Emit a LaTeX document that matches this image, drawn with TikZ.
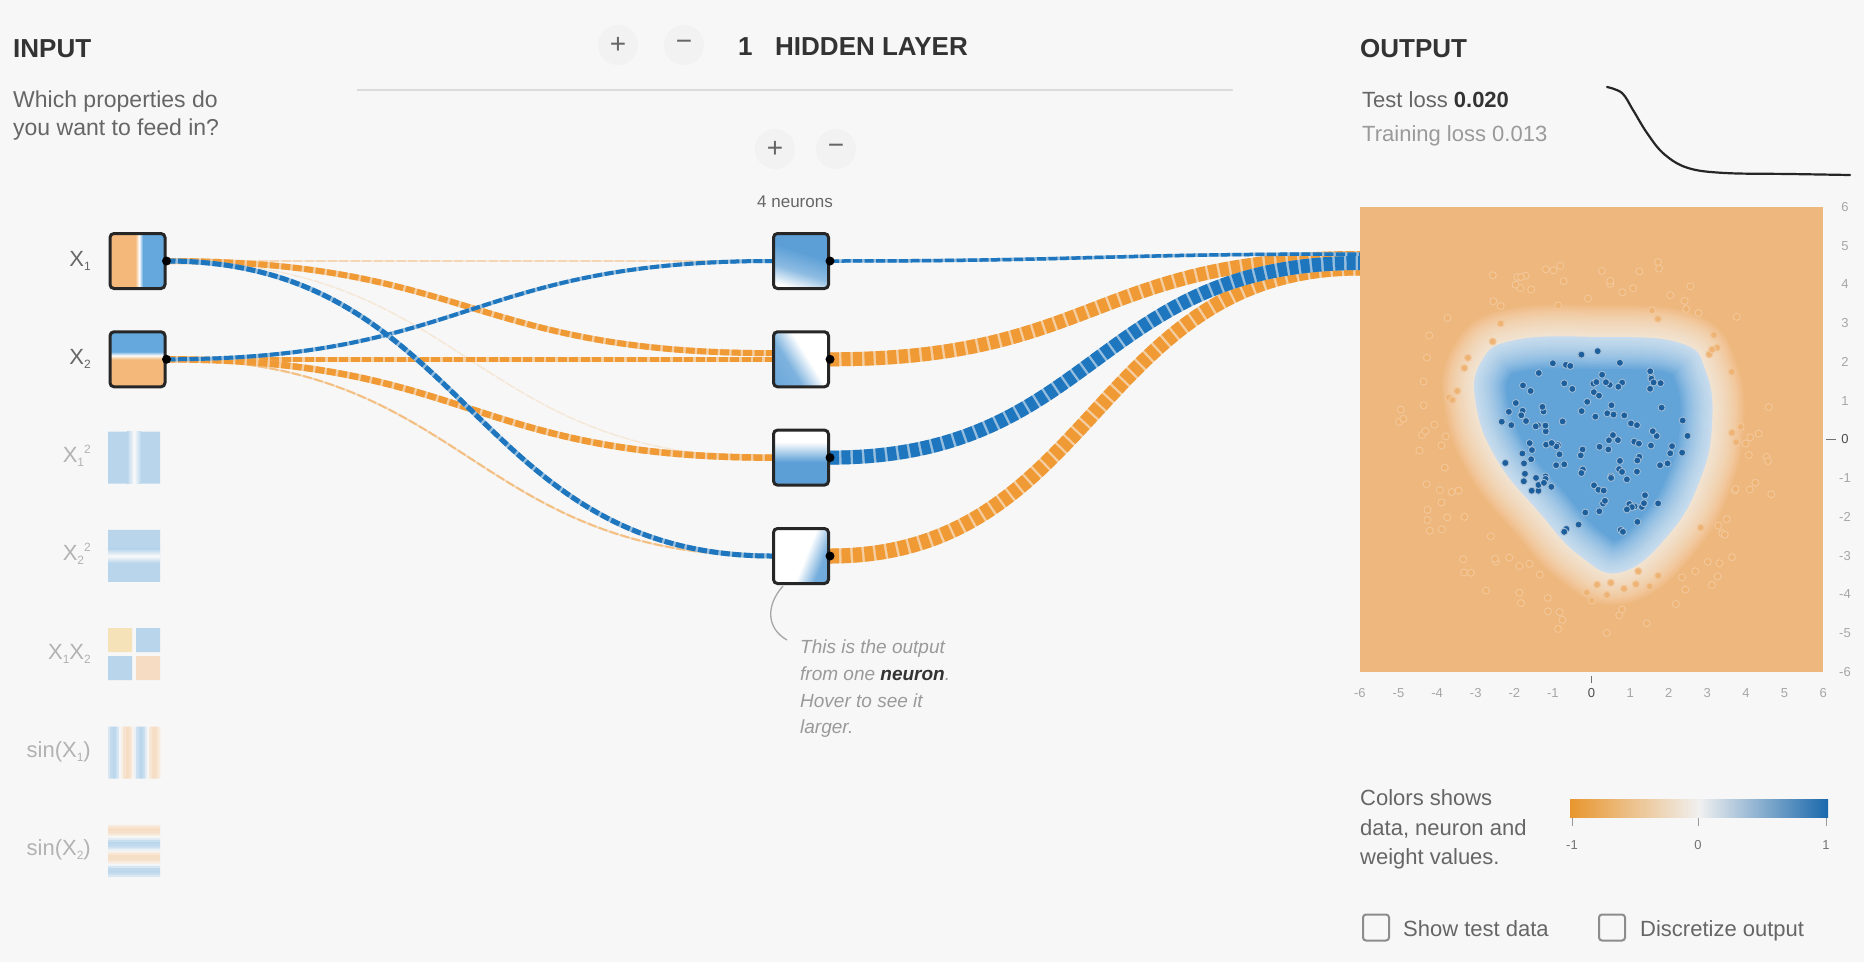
\documentclass[tikz,border=0pt]{standalone}
\usepackage{fontspec}
\setmainfont{Liberation Sans}
\usetikzlibrary{calc}

\definecolor{pagebg}{HTML}{F7F7F7}
\definecolor{inor}{HTML}{F3B87A}
\definecolor{inbl}{HTML}{65A8DD}
\definecolor{nodebl}{HTML}{5C9FD6}
\definecolor{hmor}{HTML}{EEB77D}
\definecolor{hmbl}{HTML}{62A3D8}
\definecolor{linkor}{HTML}{F09A36}
\definecolor{linkbl}{HTML}{1E76BE}
\definecolor{dotbl}{HTML}{1D5F9C}
\definecolor{ink}{HTML}{333333}
\definecolor{mid}{HTML}{666666}
\definecolor{pale}{HTML}{9A9A9A}
\definecolor{barOr}{HTML}{E8962E}
\definecolor{barBl}{HTML}{1A68AC}

\pgfdeclarelayer{ground}
\pgfdeclarelayer{wires}
\pgfsetlayers{ground,wires,main}

% heat-map shadings of the neuron outputs (25bp..75bp span the box)
\pgfdeclareverticalshading{hOne}{100bp}{color(0bp)=(white); color(24bp)=(white); color(40bp)=(nodebl!70); color(58bp)=(nodebl); color(100bp)=(nodebl)}
\pgfdeclareverticalshading{hTwo}{100bp}{color(0bp)=(white); color(44bp)=(white); color(62bp)=(nodebl!80); color(100bp)=(nodebl)}
\pgfdeclareverticalshading{hThree}{100bp}{color(0bp)=(nodebl); color(46bp)=(nodebl); color(64bp)=(white); color(100bp)=(white)}
\pgfdeclareverticalshading{hFour}{100bp}{color(0bp)=(white); color(54bp)=(white); color(70bp)=(nodebl!85); color(100bp)=(nodebl)}
% input features x1 and x2
\pgfdeclarehorizontalshading{inOne}{100bp}{color(0bp)=(inor); color(48bp)=(inor); color(51.5bp)=(white); color(55bp)=(inbl); color(100bp)=(inbl)}
\pgfdeclareverticalshading{inTwo}{100bp}{color(0bp)=(inor); color(50bp)=(inor); color(53.5bp)=(white); color(57bp)=(inbl); color(100bp)=(inbl)}

\newcommand\fsz[1]{\fontsize{#1}{#1}\selectfont}
\newcommand\subx[1]{\raisebox{-4pt}{\fsz{12}#1}}
\newcommand\supx[1]{\raisebox{9pt}{\fsz{12}#1}}

% weighted link: pale underlay plus dashed stroke
\newcommand\wire[5]{%
  \draw[#3!45!pagebg, line width=#4] (#1) to[out=0,in=180,distance=#5] (#2);
  \draw[#3, line width=#4, dash pattern=on 9pt off 2.5pt] (#1) to[out=0,in=180,distance=#5] (#2);
}

\begin{document}
\begin{tikzpicture}[x=1pt, y=-1pt,
  feat/.style={minimum size=55pt, inner sep=0pt, draw=black!85, line width=3pt, rounded corners=4pt, shade},
  ghost/.style={minimum size=52pt, inner sep=0pt},
  head/.style={anchor=base west, inner sep=0pt, text=ink, font=\bfseries\fsz{26}},
  hint/.style={anchor=base west, inner sep=0pt, text=mid, font=\fsz{23}},
  flbl/.style={anchor=base east, inner sep=0pt, text=mid, font=\fsz{22}},
  glbl/.style={anchor=base east, inner sep=0pt, text=black!30, font=\fsz{22}},
  btn/.style={circle, minimum size=40pt, inner sep=0pt, fill=black!5, text=mid, font=\fsz{28}},
  axl/.style={inner sep=0pt, text=black!35, font=\fsz{13}},
  chk/.style={minimum size=26pt, inner sep=0pt, draw=black!45, line width=2pt, rounded corners=3pt},
  odot/.style={fill=hmor!90!linkor, draw=white!22!hmor, line width=1pt},
  bdot/.style={fill=dotbl, draw=white!60!dotbl, line width=0.8pt}
]
\useasboundingbox (0,0) rectangle (1864,962);
\begin{pgfonlayer}{ground}
  \fill[pagebg] (0,0) rectangle (1864,962);
\end{pgfonlayer}

%----------------------------------------------------------- input column
\node[head] (inTitle) at (13,57) {INPUT};
\node[hint] (inHintA) at (13,107) {Which properties do};
\node[hint] (inHintB) at (13,135) {you want to feed in?};

\node[feat, shading=inOne] (x1) at (137.5,261) {};
\node[feat, shading=inTwo] (x2) at (137.5,359.3) {};
\node[flbl] (x1l) at (91,266) {X\subx{1}};
\node[flbl] (x2l) at (91,364) {X\subx{2}};

\node[ghost] (x1sq) at (134,457.6) {};
\node[ghost] (x2sq) at (134,555.9) {};
\node[ghost] (xx) at (134,654.2) {};
\node[ghost] (sx1) at (134,752.5) {};
\node[ghost] (sx2) at (134,850.8) {};
\node[glbl] (x1sql) at (91,462) {X\subx{1}\supx{2}};
\node[glbl] (x2sql) at (91,560) {X\subx{2}\supx{2}};
\node[glbl] (xxl) at (91,659) {X\subx{1}X\subx{2}};
\node[glbl] (sx1l) at (91,757) {sin(X\subx{1})};
\node[glbl] (sx2l) at (91,855) {sin(X\subx{2})};

% x1 squared
\begin{scope}[shift={(x1sq.center)}, transparency group, opacity=0.42]
  \fill[inbl] (-26,-26) rectangle (26,26);
  \shade[left color=inbl, right color=inbl, middle color=white] (-7,-26) rectangle (7,26);
\end{scope}
% x2 squared
\begin{scope}[shift={(x2sq.center)}, transparency group, opacity=0.42]
  \fill[inbl] (-26,-26) rectangle (26,26);
  \shade[top color=inbl, bottom color=inbl, middle color=white] (-26,-7) rectangle (26,7);
\end{scope}
% x1 x2
\begin{scope}[shift={(xx.center)}, transparency group, opacity=0.42]
  \fill[inor!80!yellow] (-26,-26) rectangle (-2,-2);
  \fill[inbl] (2,-26) rectangle (26,-2);
  \fill[inbl] (-26,2) rectangle (-2,26);
  \fill[inor] (2,2) rectangle (26,26);
\end{scope}
% sin x1
\begin{scope}[shift={(sx1.center)}, transparency group, opacity=0.42]
  \foreach \k in {0,...,23}{
    \pgfmathsetmacro\v{sin(deg(-6+(\k+0.5)*0.5))}
    \pgfmathtruncatemacro\p{abs(\v)*100}
    \ifdim\v pt>0pt \colorlet{cc}{inbl!\p!white}\else\colorlet{cc}{inor!\p!white}\fi
    \fill[cc] ({-26+\k*52/24},-26) rectangle ({-26+(\k+1)*52/24+0.3},26);
  }
\end{scope}
% sin x2
\begin{scope}[shift={(sx2.center)}, transparency group, opacity=0.42]
  \foreach \k in {0,...,23}{
    \pgfmathsetmacro\v{sin(deg(6-(\k+0.5)*0.5))}
    \pgfmathtruncatemacro\p{abs(\v)*100}
    \ifdim\v pt>0pt \colorlet{cc}{inbl!\p!white}\else\colorlet{cc}{inor!\p!white}\fi
    \fill[cc] (-26,{-26+\k*52/24}) rectangle (26,{-26+(\k+1)*52/24+0.3});
  }
\end{scope}

%----------------------------------------------------------- hidden layer header
\node[btn] (layPlus) at (618,45) {+};
\node[btn] (layMinus) at (684,45) {−};
\node[head] (layNum) at (738,55) {1};
\node[head] (layTitle) at (775,55) {HIDDEN LAYER};
\draw[black!14, line width=2pt] (357,90) -- (1233,90);
\node[btn] (neuPlus) at (775,149) {+};
\node[btn] (neuMinus) at (836,149) {−};
\node[anchor=base, inner sep=0pt, text=mid, font=\fsz{17}] (neuCount) at (795,207) {4 neurons};

%----------------------------------------------------------- hidden neurons
\node[feat, shading=hOne, shading angle=-17] (h1) at (801,261) {};
\node[feat, shading=hTwo, shading angle=122] (h2) at (801,359.3) {};
\node[feat, shading=hThree] (h3) at (801,457.6) {};
\node[feat, shading=hFour, shading angle=-112] (h4) at (801,556) {};

%----------------------------------------------------------- output panel
\node[head] (outTitle) at (1360,57) {OUTPUT};
\node[anchor=base west, inner sep=0pt, text=mid, font=\fsz{22}] (testLoss) at (1362,107) {Test loss \textcolor{ink}{\bfseries 0.020}};
\node[anchor=base west, inner sep=0pt, text=pale, font=\fsz{22}] (trainLoss) at (1362,141) {Training loss 0.013};
\draw[black!85, line width=2.2pt, line cap=round] plot[smooth, tension=0.6] coordinates
  {(1607,87) (1622,93) (1633,110) (1647,133) (1664,154) (1688,168) (1725,173) (1790,174) (1850,175)};

\node[minimum width=463pt, minimum height=465pt, inner sep=0pt, fill=hmor] (out) at (1591.5,439.5) {};
\coordinate (o1) at (1360,254);
\coordinate (o2) at (1360,258);
\coordinate (o3) at (1360,263);
\coordinate (o4) at (1360,268);

\begin{scope}
  \clip (out.north west) rectangle (out.south east);
  \fill[hmbl] plot[smooth cycle, tension=0.75] coordinates
    {(1515,340) (1600,337) (1680,343) (1706,372) (1712,425) (1700,480) (1670,533) (1622,572) (1580,556) (1538,511) (1497,460) (1476,405) (1481,362)};
  \foreach \w in {64,60,...,4}
    \draw[white, line width=\w pt, opacity=0.065, line join=round] plot[smooth cycle, tension=0.75] coordinates
      {(1515,340) (1600,337) (1680,343) (1706,372) (1712,425) (1700,480) (1670,533) (1622,572) (1580,556) (1538,511) (1497,460) (1476,405) (1481,362)};
  \pgfmathsetseed{2024}
  \foreach \i in {1,...,130}{
    \pgfmathsetmacro\rr{136+58*rnd}
    \pgfmathsetmacro\aa{360*rnd}
    \fill[odot] ({1591.5+\rr*cos(\aa)},{439.5+\rr*sin(\aa)}) circle (3.5pt);
  }
  \foreach \i in {1,...,125}{
    \pgfmathsetmacro\rr{96*sqrt(rnd)}
    \pgfmathsetmacro\aa{360*rnd}
    \filldraw[bdot] ({1594+\rr*cos(\aa)},{443+\rr*sin(\aa)}) circle (3.5pt);
  }
\end{scope}

% axes of the output plot
\foreach \v in {6,5,...,-6}{
  \ifnum\v=0
    \node[axl, text=black!70] at (1845,{439.5-\v*38.75}) {\v};
  \else
    \node[axl] at (1845,{439.5-\v*38.75}) {\v};
  \fi
}
\foreach \v in {-6,...,6}{
  \ifnum\v=0
    \node[axl, text=black!70] at ({1591.5+\v*38.6},693) {\v};
  \else
    \node[axl] at ({1591.5+\v*38.6},693) {\v};
  \fi
}
\draw[black!55, line width=1pt] (1826,439.5) -- (1836,439.5);
\draw[black!55, line width=1pt] (1591.5,676) -- (1591.5,683);

%----------------------------------------------------------- links
\begin{pgfonlayer}{wires}
  % input -> hidden
  \wire{x1.east}{h1.west}{linkor!35!pagebg}{2pt}{302pt}
  \wire{x1.east}{h3.west}{linkor!18!pagebg}{1.2pt}{302pt}
  \wire{x2.east}{h4.west}{linkor!60!pagebg}{2pt}{302pt}
  \wire{x1.east}{h2.168}{linkor}{6pt}{302pt}
  \wire{x2.east}{h2.west}{linkor}{5pt}{302pt}
  \wire{x2.east}{h3.west}{linkor}{6.5pt}{302pt}
  \wire{x2.east}{h1.west}{linkbl}{4pt}{302pt}
  \wire{x1.east}{h4.west}{linkbl}{5pt}{302pt}
  % hidden -> output
  \wire{h4.east}{o4}{linkor}{15pt}{265pt}
  \wire{h2.east}{o2}{linkor}{14pt}{265pt}
  \wire{h3.east}{o3}{linkbl}{14pt}{265pt}
  \wire{h1.east}{o1}{linkbl}{3.5pt}{265pt}
\end{pgfonlayer}

\foreach \n in {x1,x2,h1,h2,h3,h4}
  \fill[black] (\n.east) circle (4.5pt);

%----------------------------------------------------------- neuron tooltip
\coordinate (tipEnd) at (787,640);
\draw[black!35, line width=1.3pt] ($(h4.south)+(-18,1)$) .. controls (766,605) and (766,628) .. (tipEnd);
\node[anchor=base west, inner sep=0pt, text=pale, font=\itshape\fsz{19}] (tipA) at (800,653) {This is the output};
\node[anchor=base west, inner sep=0pt, text=pale, font=\itshape\fsz{19}] (tipB) at (800,680) {from one \textcolor{ink}{\bfseries neuron}.};
\node[anchor=base west, inner sep=0pt, text=pale, font=\itshape\fsz{19}] (tipC) at (800,707) {Hover to see it};
\node[anchor=base west, inner sep=0pt, text=pale, font=\itshape\fsz{19}] (tipD) at (800,733) {larger.};

%----------------------------------------------------------- colour legend
\node[hint, font=\fsz{22}] (legA) at (1360,805) {Colors shows};
\node[hint, font=\fsz{22}] (legB) at (1360,835) {data, neuron and};
\node[hint, font=\fsz{22}] (legC) at (1360,864) {weight values.};
\node[minimum width=258pt, minimum height=18pt, inner sep=0pt, shade, left color=barOr, right color=barBl, middle color=black!6] (cbar) at (1699,808) {};
\foreach \t/\xx in {-1/1572, 0/1698, 1/1826}{
  \draw[black!40, line width=1pt] (\xx,818) -- (\xx,826);
  \node[axl, text=black!55] at (\xx,845) {\t};
}

\node[chk] (cbTest) at (1376,927.5) {};
\node[hint, font=\fsz{22}] (cbTestL) at (1403,936) {Show test data};
\node[chk] (cbDisc) at (1612,927.5) {};
\node[hint, font=\fsz{22}] (cbDiscL) at (1640,936) {Discretize output};
\end{tikzpicture}
\end{document}
